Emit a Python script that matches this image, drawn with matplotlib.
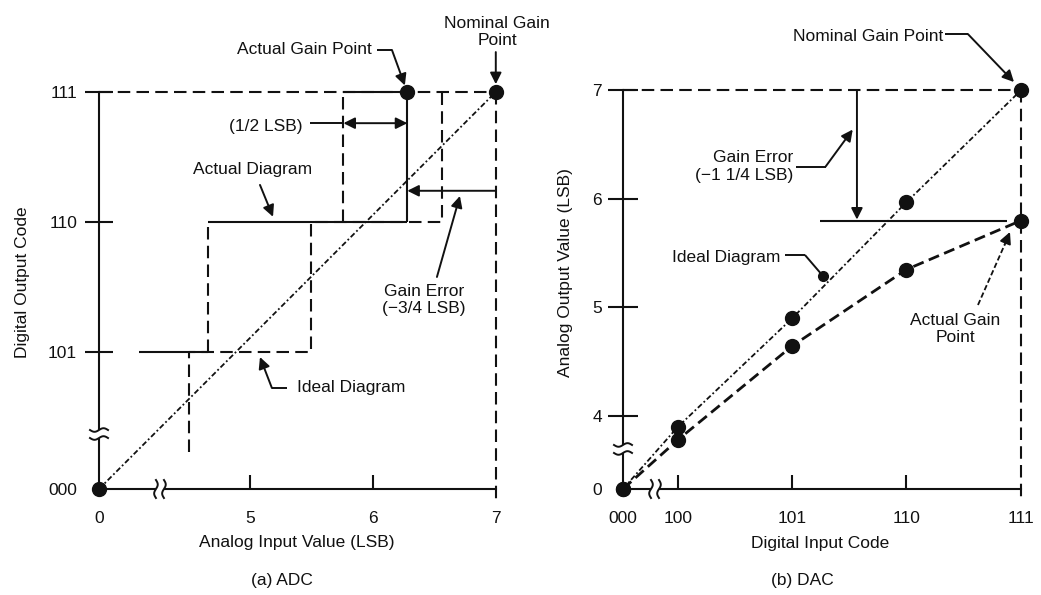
import numpy as np
import matplotlib
matplotlib.use('Agg')
import matplotlib.pyplot as plt
from matplotlib.patches import Rectangle

plt.rcParams['font.family'] = ['Liberation Sans', 'DejaVu Sans']
plt.rcParams['font.size'] = 12.5
K = '#111111'

# ---------------- (a) ADC data (display units = LSB / code) ----------------
adc_x_pos = [3.771, 5, 6, 7]
adc_x_labels = ['0', '5', '6', '7']
adc_y_pos = [3.946, 5, 6, 7]
adc_y_labels = ['000', '101', '110', '111']
adc_ideal_edges = [4.5, 5.5, 6.56]      # ideal transitions into 101, 110, 111
adc_ideal_codes = [5, 6, 7]
adc_ideal_from = 4.23                   # visible lower end of first ideal transition
adc_actual_start = 4.1
adc_actual_edges = [4.66, 5.76]         # actual transitions into 110, 111
adc_actual_codes = [5, 6, 7]
adc_actual_gain = (6.28, 7)
adc_nominal_gain = (7, 7)
adc_gain_err_level = 6.24
adc_half_lsb_level = 6.76

# ---------------- (b) DAC data ----------------
dac_x_pos = [3.52, 4, 5, 6, 7]
dac_x_labels = ['000', '100', '101', '110', '111']
dac_y_pos = [3.327, 4, 5, 6, 7]
dac_y_labels = ['0', '4', '5', '6', '7']
dac_codes = [3.52, 4, 5, 6, 7]
dac_ideal = [3.327, 3.90, 4.90, 5.97, 7.00]
dac_actual = [3.327, 3.78, 4.645, 5.35, 5.80]
dac_gain_err_x = 5.567

W, H = 1041, 595
fig = plt.figure(figsize=(W / 100, H / 100), dpi=100)


def add_axes(l, r, t, b):
    return fig.add_axes([l / W, (H - b) / H, (r - l) / W, (b - t) / H])


ax1 = add_axes(99, 520, 60, 489)
ax1.set_xlim(3.771, 7.197)
ax1.set_ylim(3.946, 7.246)
ax2 = add_axes(623, 1035, 60, 489)
ax2.set_xlim(3.52, 7.125)
ax2.set_ylim(3.327, 7.281)

DASH = (0, (6, 3))
DOT = (0, (3, 1.4, 1, 1.4))


def style(ax, xpos, xlab, ypos, ylab, ylen, ypad):
    for s in ('top', 'right'):
        ax.spines[s].set_visible(False)
    ax.spines['left'].set_bounds(ypos[0], ypos[-1])
    ax.spines['bottom'].set_bounds(xpos[0], xpos[-1])
    for s in ('left', 'bottom'):
        ax.spines[s].set_linewidth(1.5)
        ax.spines[s].set_color(K)
    ax.set_xticks(xpos, xlab)
    ax.set_yticks(ypos, ylab)
    ax.tick_params(axis='x', direction='in', length=10, width=1.5, pad=16, colors=K)
    ax.tick_params(axis='y', direction='inout', length=ylen, width=1.5, pad=ypad, colors=K)
    xt = ax.xaxis.get_major_ticks()
    yt = ax.yaxis.get_major_ticks()
    xt[0].tick1line.set_visible(False)
    xt[-1].tick1line.set_visible(False)
    yt[0].tick1line.set_visible(False)
    ax.patch.set_visible(False)


style(ax1, adc_x_pos, adc_x_labels, adc_y_pos, adc_y_labels, 20, 5.8)
style(ax2, dac_x_pos, dac_x_labels, dac_y_pos, dac_y_labels, 21, 4.6)


def arrow(ax, start, end, lw=1.4, ms=17, st='-|>'):
    ax.annotate('', xy=end, xytext=start, annotation_clip=False,
                arrowprops=dict(arrowstyle=st, lw=lw, color=K, mutation_scale=ms,
                                shrinkA=0, shrinkB=0))


def line(ax, xs, ys, ls='-', lw=1.5, z=2):
    ax.plot(xs, ys, color=K, lw=lw, ls=ls, zorder=z, clip_on=False,
            solid_capstyle='butt', dash_capstyle='butt')


def ybreak(ax, x, y, sx, sy):
    ax.add_patch(Rectangle((x - 4 * sx, y - 4 * sy), 8 * sx, 8 * sy, facecolor='white',
                           edgecolor='none', zorder=3, clip_on=False))
    t = np.linspace(-1, 1, 30)
    for off in (-4, 4):
        ax.plot(x + 9 * t * sx, y + (off + 1.8 * np.sin(np.pi * t)) * sy, color=K, lw=1.4,
                zorder=4, clip_on=False)


def xbreak(ax, x, y, sx, sy):
    ax.add_patch(Rectangle((x - 4 * sx, y - 4 * sy), 8 * sx, 8 * sy, facecolor='white',
                           edgecolor='none', zorder=3, clip_on=False))
    t = np.linspace(-1, 1, 30)
    for off in (-4, 4):
        ax.plot(x + (off + 1.8 * np.sin(np.pi * t)) * sx, y + 9 * t * sy, color=K, lw=1.4,
                zorder=4, clip_on=False)


# ======================= (a) ADC =======================
x0, y0 = adc_x_pos[0], adc_y_pos[0]
top = adc_nominal_gain[1]
# reference lines at code 111 and at 7 LSB
line(ax1, [x0, adc_nominal_gain[0]], [top, top], DASH)
line(ax1, [adc_nominal_gain[0]] * 2, [top, 3.86], DASH)
# ideal staircase (dashed)
ix, iy = [], []
prev = adc_ideal_from
for e, c in zip(adc_ideal_edges, adc_ideal_codes):
    ix += [e, e]
    iy += [prev, c]
    prev = c
line(ax1, ix, iy, DASH)
# actual staircase
line(ax1, [adc_actual_start, adc_actual_edges[0]], [adc_actual_codes[0]] * 2)
line(ax1, [adc_actual_edges[0], adc_actual_gain[0]], [adc_actual_codes[1]] * 2)
line(ax1, [adc_actual_edges[1], adc_actual_gain[0]], [adc_actual_codes[2]] * 2)
line(ax1, [adc_actual_edges[0]] * 2, adc_actual_codes[0:2], DASH)
line(ax1, [adc_actual_edges[1]] * 2, adc_actual_codes[1:3], DASH)
line(ax1, [adc_actual_gain[0]] * 2, [adc_actual_codes[1], adc_actual_gain[1]])
# ideal transfer line
line(ax1, [x0, adc_nominal_gain[0]], [y0, adc_nominal_gain[1]], DOT, lw=1.3)
# points
ax1.plot([x0, adc_actual_gain[0], adc_nominal_gain[0]], [y0, adc_actual_gain[1], adc_nominal_gain[1]],
         'o', color=K, ms=10, zorder=6, clip_on=False)
# breaks
ybreak(ax1, x0, 4.369, 1 / 122.9, 1 / 130)
xbreak(ax1, 4.267, y0, 1 / 122.9, 1 / 130)
# gain error and half-LSB dimensions
arrow(ax1, (adc_nominal_gain[0], adc_gain_err_level), (adc_actual_gain[0], adc_gain_err_level))
line(ax1, [5.488, adc_actual_edges[1]], [adc_half_lsb_level] * 2, lw=1.4)
arrow(ax1, (adc_actual_edges[1], adc_half_lsb_level), (adc_actual_gain[0], adc_half_lsb_level), st='<|-|>')
# annotations
ax1.text(7.01, 7.46, 'Nominal Gain\nPoint', ha='center', va='center', color=K)
arrow(ax1, (7, 7.307), (7, 7.06))
ax1.text(5.992, 7.323, 'Actual Gain Point', ha='right', va='center', color=K)
line(ax1, [6.03, 6.155], [7.323, 7.323], lw=1.4)
arrow(ax1, (6.155, 7.323), (6.26, 7.05))
ax1.text(5.423, 6.735, '(1/2 LSB)', ha='right', va='center', color=K)
ax1.text(5.024, 6.40, 'Actual Diagram', ha='center', va='center', color=K)
arrow(ax1, (5.081, 6.285), (5.187, 6.04))
ax1.text(6.415, 5.40, 'Gain Error\n(\u22123/4 LSB)', ha='center', va='center', color=K)
arrow(ax1, (6.521, 5.577), (6.708, 6.20))
ax1.text(5.382, 4.723, 'Ideal Diagram', ha='left', va='center', color=K)
line(ax1, [5.30, 5.178], [4.723, 4.723], lw=1.4)
arrow(ax1, (5.178, 4.723), (5.081, 4.961))
ax1.text(5.382, 3.531, 'Analog Input Value (LSB)', ha='center', va='center', color=K)
ax1.text(5.26, 3.246, '(a) ADC', ha='center', va='center', color=K)
ax1.text(3.145, 5.538, 'Digital Output Code', rotation=90, ha='center', va='center', color=K)

# ======================= (b) DAC =======================
u0, v0 = dac_x_pos[0], dac_y_pos[0]
line(ax2, [u0, dac_codes[-1]], [dac_ideal[-1]] * 2, DASH)
line(ax2, [dac_codes[-1]] * 2, [dac_ideal[-1], 3.226], DASH)
line(ax2, dac_codes, dac_ideal, DOT, lw=1.3)
line(ax2, dac_codes, dac_actual, (0, (4, 2)), lw=2.0)
ax2.plot(dac_codes, dac_ideal, 'o', color=K, ms=10, zorder=6, clip_on=False)
ax2.plot(dac_codes, dac_actual, 'o', color=K, ms=10, zorder=6, clip_on=False)
ybreak(ax2, u0, 3.696, 1 / 114.3, 1 / 108.5)
xbreak(ax2, 3.80, v0, 1 / 114.3, 1 / 108.5)
# gain error
line(ax2, [5.244, 6.88], [dac_actual[-1]] * 2)
arrow(ax2, (dac_gain_err_x, dac_ideal[-1]), (dac_gain_err_x, dac_actual[-1] + 0.01))
# annotations
ax2.text(6.32, 7.493, 'Nominal Gain Point', ha='right', va='center', color=K)
line(ax2, [6.337, 6.538], [7.52, 7.52], lw=1.4)
arrow(ax2, (6.538, 7.52), (6.941, 7.078))
ax2.text(5.007, 6.299, 'Gain Error\n(\u22121 1/4 LSB)', ha='right', va='center',
         multialignment='right', color=K)
line(ax2, [5.03, 5.293], [6.299, 6.299], lw=1.4)
arrow(ax2, (5.293, 6.299), (5.53, 6.64))
ax2.text(4.894, 5.465, 'Ideal Diagram', ha='right', va='center', color=K)
line(ax2, [4.937, 5.112], [5.484, 5.484], lw=1.4)
line(ax2, [5.112, 5.27], [5.484, 5.29], lw=1.4)
ax2.plot([5.27], [5.29], 'o', color=K, ms=7, zorder=6)
ax2.text(6.425, 4.80, 'Actual Gain\nPoint', ha='center', va='center', color=K)
line(ax2, [6.626, 6.86], [5.023, 5.58], (0, (3, 1.5)), lw=1.3)
arrow(ax2, (6.86, 5.58), (6.906, 5.696))
ax2.text(5.243, 2.829, 'Digital Input Code', ha='center', va='center', color=K)
ax2.text(5.086, 2.488, '(b) DAC', ha='center', va='center', color=K)
ax2.text(3.013, 5.318, 'Analog Output Value (LSB)', rotation=90, ha='center', va='center', color=K)

fig.savefig('out.png', dpi=100)
